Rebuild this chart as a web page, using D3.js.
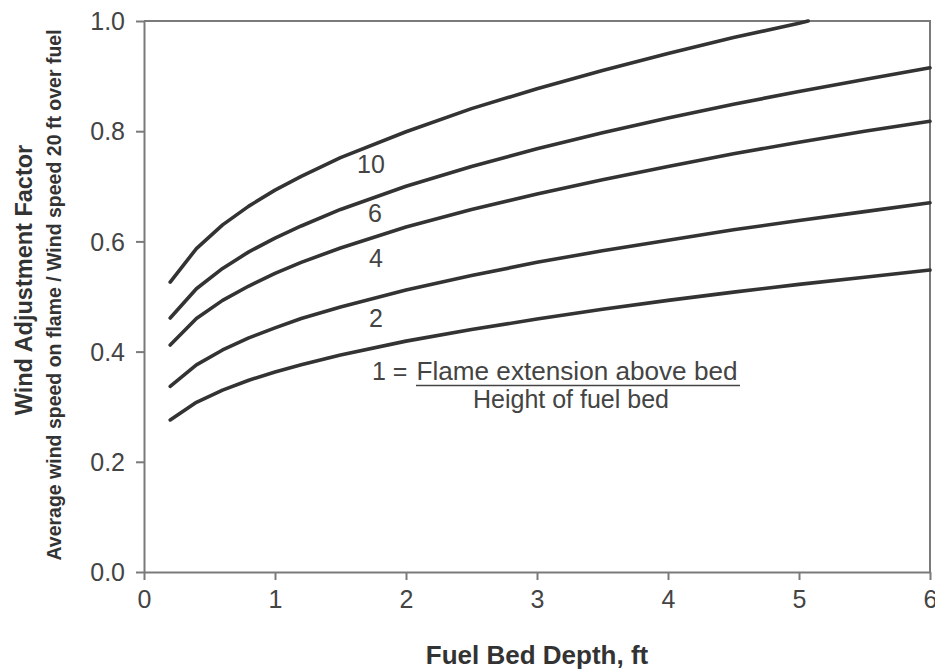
<!DOCTYPE html>
<html>
<head>
<meta charset="utf-8">
<script src="https://cdn.jsdelivr.net/npm/d3@7"></script>
<style>
  html, body { margin: 0; padding: 0; background: #fff; }
  svg { display: block; font-family: "Liberation Sans", Arial, sans-serif; }
</style>
</head>
<body>
<svg id="chart" width="935" height="670"></svg>
<script>
// Fuel bed depth (ft) sample points
const depths = [0.2, 0.4, 0.6, 0.8, 1.0, 1.2, 1.5, 2.0, 2.5, 3.0, 3.5, 4.0, 4.5, 5.0, 5.5, 6.0];

// Wind adjustment factor for each flame-extension ratio
const waf1  = [0.276, 0.308, 0.330, 0.348, 0.363, 0.376, 0.394, 0.419, 0.440, 0.459, 0.477, 0.493, 0.508, 0.522, 0.535, 0.548];
const waf2  = [0.337, 0.376, 0.403, 0.425, 0.443, 0.460, 0.481, 0.512, 0.538, 0.562, 0.583, 0.602, 0.621, 0.638, 0.654, 0.670];
const waf4  = [0.412, 0.460, 0.493, 0.519, 0.542, 0.562, 0.588, 0.626, 0.658, 0.686, 0.712, 0.736, 0.759, 0.780, 0.800, 0.818];
const waf6  = [0.461, 0.514, 0.551, 0.581, 0.606, 0.628, 0.658, 0.700, 0.736, 0.768, 0.797, 0.824, 0.849, 0.872, 0.894, 0.915];
const waf10 = [0.526, 0.587, 0.630, 0.664, 0.693, 0.718, 0.752, 0.799, 0.841, 0.877, 0.910, 0.941, 0.970, 0.996];
// the ratio-10 curve reaches 1.0 just past 5 ft
const waf10EndDepth = 5.07;
const waf10EndValue = 1.0;

const ratios = ["1", "2", "4", "6", "10"];
const series = [waf1, waf2, waf4, waf6, waf10];

const xTicks = [0, 1, 2, 3, 4, 5, 6];
const yTicks = [0.0, 0.2, 0.4, 0.6, 0.8, 1.0];

// Curve labels: [ratio, depth, value] anchor for the text baseline
const curveLabels = [["10", 1.733, 0.724], ["6", 1.763, 0.635], ["4", 1.771, 0.554], ["2", 1.771, 0.445]];

const svg = d3.select("#chart");
const margin = { left: 144, right: 5, top: 21, bottom: 98 };
const W = 935, H = 670;

const x = d3.scaleLinear().domain([0, 6]).range([margin.left, W - margin.right]);
const y = d3.scaleLinear().domain([0, 1]).range([H - margin.bottom, margin.top]);

const axisColor = "#7a7a7a";
const textColor = "#444";
const labelSize = "25px";

// plot frame (top and right)
svg.append("path")
  .attr("d", `M${x(0)},${y(1)}H${x(6)}V${y(0)}`)
  .attr("fill", "none").attr("stroke", axisColor).attr("stroke-width", 2);

// x axis
const gx = svg.append("g").attr("transform", `translate(0,${y(0)})`)
  .call(d3.axisBottom(x).tickValues(xTicks).tickFormat(d3.format("d")).tickSize(8).tickSizeOuter(0).tickPadding(10));
// y axis
const gy = svg.append("g").attr("transform", `translate(${x(0)},0)`)
  .call(d3.axisLeft(y).tickValues(yTicks).tickFormat(d3.format(".1f")).tickSize(8).tickSizeOuter(0).tickPadding(11));

[gx, gy].forEach(g => {
  g.select(".domain").attr("stroke", axisColor).attr("stroke-width", 2);
  g.selectAll(".tick line").attr("stroke", axisColor).attr("stroke-width", 2);
  g.selectAll(".tick text").attr("fill", textColor).style("font-size", labelSize)
    .style("font-family", "'Liberation Sans', Arial, sans-serif");
});
gy.selectAll(".tick text").attr("dy", "0.35em");

// curves
const line = d3.line().x(d => x(d[0])).y(d => y(d[1]));
series.forEach((vals, i) => {
  const pts = vals.map((v, j) => [depths[j], v]);
  if (ratios[i] === "10") pts.push([waf10EndDepth, waf10EndValue]);
  svg.append("path").datum(pts)
    .attr("d", line)
    .attr("fill", "none")
    .attr("stroke", "#333")
    .attr("stroke-width", 3.6)
    .attr("stroke-linecap", "round")
    .attr("stroke-linejoin", "round");
});

// curve labels
curveLabels.forEach(([t, dx, v]) => {
  svg.append("text").attr("x", x(dx)).attr("y", y(v))
    .attr("text-anchor", "middle").attr("fill", textColor)
    .style("font-size", labelSize).text(t);
});

// ratio definition for the lowest curve
svg.append("text").attr("x", 372).attr("y", 380)
  .attr("fill", textColor)
  .style("font-size", labelSize).text("1 =");
svg.append("text").attr("x", 577).attr("y", 380)
  .attr("text-anchor", "middle").attr("fill", textColor)
  .attr("textLength", 321).attr("lengthAdjust", "spacingAndGlyphs")
  .style("font-size", labelSize).text("Flame extension above bed");
svg.append("line").attr("x1", 416).attr("x2", 740).attr("y1", 385.5).attr("y2", 385.5)
  .attr("stroke", textColor).attr("stroke-width", 1.5);
svg.append("text").attr("x", 571).attr("y", 408)
  .attr("text-anchor", "middle").attr("fill", textColor)
  .style("font-size", labelSize).text("Height of fuel bed");

// axis titles
svg.append("text").attr("x", 537).attr("y", 664)
  .attr("text-anchor", "middle").attr("fill", "#333")
  .style("font-size", "26px").style("font-weight", "bold").text("Fuel Bed Depth, ft");
svg.append("text").attr("transform", `translate(32,280) rotate(-90)`)
  .attr("text-anchor", "middle").attr("fill", "#333")
  .style("font-size", "23.5px").style("font-weight", "bold").text("Wind Adjustment Factor");
svg.append("text").attr("transform", `translate(61,295) rotate(-90)`)
  .attr("text-anchor", "middle").attr("fill", "#333")
  .style("font-size", "19.5px").style("font-weight", "bold").text("Average wind speed on flame / Wind speed 20 ft over fuel");
</script>
</body>
</html>
